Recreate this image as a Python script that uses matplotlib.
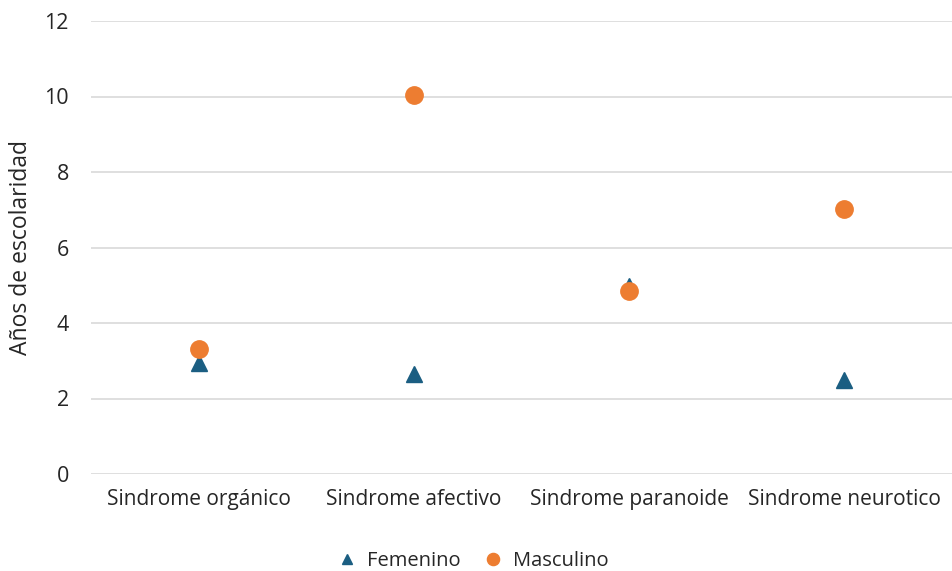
import matplotlib
matplotlib.use("Agg")
import matplotlib.pyplot as plt
import numpy as np

plt.rcParams['font.family'] = ['Open Sans', 'DejaVu Sans']

categories = ["Sindrome orgánico", "Sindrome afectivo", "Sindrome paranoide", "Sindrome neurotico"]
femenino = [2.95, 2.65, 4.97, 2.49]
masculino = [3.30, 10.04, 4.86, 7.02]

fig = plt.figure(figsize=(9.52, 5.71), dpi=100)
ax = fig.add_axes([91/952, 1-474/571, (952-91)/952, (474-21)/571])

x = np.arange(len(categories))
ax.plot(x, femenino, linestyle='none', marker='^', markersize=11, color='#1B5E82', label='Femenino', zorder=3)
ax.plot(x, masculino, linestyle='none', marker='o', markersize=12.5, color='#ED7D31', label='Masculino', zorder=4)

ax.set_xlim(-0.5, len(categories) - 0.5)
ax.set_ylim(0, 12)
ax.set_yticks(range(0, 13, 2))
ax.set_xticks(x)
ax.set_xticklabels(categories, fontsize=15, color='#262626')
ax.tick_params(axis='y', labelsize=15.5, colors='#262626', length=0, pad=16)
ax.tick_params(axis='x', length=0, pad=11)
ax.yaxis.grid(True, color='#D9D9D9', linewidth=1.2)
ax.set_axisbelow(True)
for s in ax.spines.values():
    s.set_visible(False)
ax.set_ylabel('Años de escolaridad', fontsize=16.5, color='#262626', labelpad=8)

ax.legend(loc='center', bbox_to_anchor=(0.438, -0.192), ncol=2, frameon=False,
          fontsize=14.5, handletextpad=0.0, columnspacing=0.6, markerscale=0.7,
          labelcolor='#262626', borderpad=0.1)

fig.savefig('out.png', dpi=100)
